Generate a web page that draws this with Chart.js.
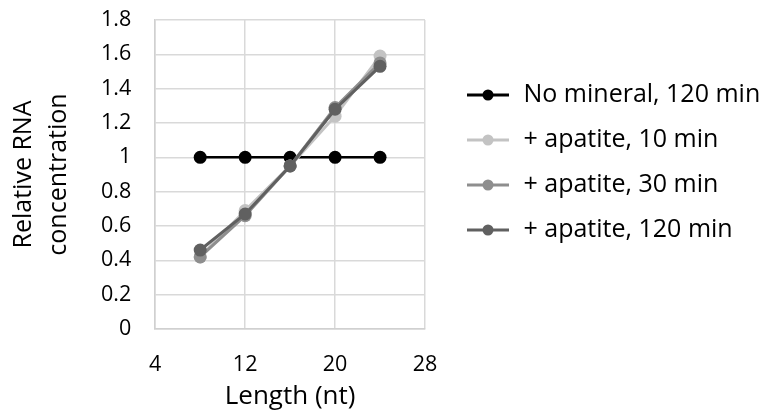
<!DOCTYPE html>
<html>
<head>
<meta charset="utf-8">
<script src="https://cdn.jsdelivr.net/npm/chart.js@4"></script>
<style>
  html, body { margin: 0; padding: 0; background: #fff; }
  #wrap { width: 772px; height: 412px; }
</style>
</head>
<body>
<div id="wrap"><canvas id="lenChart" width="772" height="412"></canvas></div>
<script>
// lengths (nt) and relative concentrations
var lengths = [8, 12, 16, 20, 24];
var noMineral120 = [1, 1, 1, 1, 1];
var apatite10 = [0.42, 0.69, 0.95, 1.24, 1.59];
var apatite30 = [0.42, 0.66, 0.95, 1.29, 1.55];
var apatite120 = [0.46, 0.67, 0.95, 1.28, 1.53];
var seriesNames = ['No mineral, 120 min', '+ apatite, 10 min', '+ apatite, 30 min', '+ apatite, 120 min'];
var seriesColors = ['#000000', '#c3c3c3', '#8e8e8e', '#606060'];
var xTicks = [4, 12, 20, 28];
var yTicks = [0, 0.2, 0.4, 0.6, 0.8, 1, 1.2, 1.4, 1.6, 1.8];

var FONT = "'Open Sans', sans-serif";
var LEG_SIZE = 25;
var LEG_PAD = 20;
var SWATCH_W = 66; // first 22px left blank = gap between plot and legend

function pts(ys) {
  return lengths.map(function(x, i) { return {x: x, y: ys[i]}; });
}

// line-with-dot swatch like Excel's legend
function swatch(color) {
  var c = document.createElement('canvas');
  c.width = SWATCH_W; c.height = 16;
  var g = c.getContext('2d');
  g.strokeStyle = color;
  g.lineWidth = 3;
  g.beginPath(); g.moveTo(22, 8); g.lineTo(64, 8); g.stroke();
  g.fillStyle = color;
  g.beginPath(); g.arc(43, 8, 5.5, 0, Math.PI * 2); g.fill();
  return c;
}

// widest legend text, so the plot's right edge lands where the legend starts
var mctx = document.createElement('canvas').getContext('2d');
mctx.font = LEG_SIZE + 'px ' + FONT;
var textW = Math.max.apply(null, seriesNames.map(function(s) { return mctx.measureText(s).width; }));
var legendW = LEG_PAD + SWATCH_W + LEG_SIZE / 2 + textW + 10;
var padRight = Math.max(0, 772 - 425 - legendW);

var allSeries = [noMineral120, apatite10, apatite30, apatite120];
var datasets = allSeries.map(function(ys, i) {
  return {
    label: seriesNames[i],
    data: pts(ys),
    borderColor: seriesColors[i],
    backgroundColor: seriesColors[i],
    borderWidth: i === 0 ? 2.5 : 3,
    pointRadius: 6.5,
    pointBorderWidth: 0,
    order: 4 - i,
    tension: 0
  };
});

var ctx = document.getElementById('lenChart').getContext('2d');
var lenChart = new Chart(ctx, {
  type: 'line',
  data: { datasets: datasets },
  options: {
    responsive: false,
    animation: false,
    layout: { padding: { left: 7, right: padRight, top: 20, bottom: 0 } },
    plugins: {
      tooltip: { enabled: false },
      legend: {
        position: 'right',
        align: 'start',
        maxWidth: 420,
        title: { display: true, text: '', font: { size: 10, lineHeight: 1 }, padding: { top: 32.5, bottom: 0 } },
        labels: {
          usePointStyle: true,
          pointStyleWidth: SWATCH_W,
          padding: LEG_PAD,
          color: '#000',
          font: { family: FONT, size: LEG_SIZE },
          generateLabels: function(chart) {
            return chart.data.datasets.map(function(ds, i) {
              return {
                text: ds.label,
                pointStyle: swatch(ds.borderColor),
                fillStyle: ds.borderColor,
                strokeStyle: ds.borderColor,
                lineWidth: 0,
                fontColor: '#000',
                datasetIndex: i
              };
            });
          }
        }
      }
    },
    scales: {
      x: {
        type: 'linear',
        min: 4,
        max: 28,
        afterBuildTicks: function(axis) {
          axis.ticks = xTicks.map(function(v) { return {value: v}; });
        },
        grid: { color: '#d9d9d9', lineWidth: 1.5, drawTicks: true, tickLength: 20, tickColor: 'rgba(0,0,0,0)' },
        border: { color: '#d0d0d0', width: 1.5 },
        ticks: { color: '#000', padding: 3, font: { family: FONT, size: 21.5 } },
        title: { display: true, text: 'Length (nt)', color: '#000', font: { family: FONT, size: 26 }, padding: { top: 0, bottom: 0 } }
      },
      y: {
        min: 0,
        max: 1.8,
        afterBuildTicks: function(axis) {
          axis.ticks = yTicks.map(function(v) { return {value: v}; });
        },
        grid: { color: '#d9d9d9', lineWidth: 1.5, drawTicks: true, tickLength: 22, tickColor: 'rgba(0,0,0,0)' },
        border: { color: '#d0d0d0', width: 1.5 },
        ticks: {
          color: '#000', padding: 2, font: { family: FONT, size: 21.5 },
          callback: function(v) { return String(Number(v.toFixed(1))); }
        },
        title: { display: true, text: ['Relative RNA', 'concentration'], color: '#000', font: { family: FONT, size: 25, lineHeight: 1.38 }, padding: { top: 0, bottom: 23 } }
      }
    }
  }
});
</script>
</body>
</html>
